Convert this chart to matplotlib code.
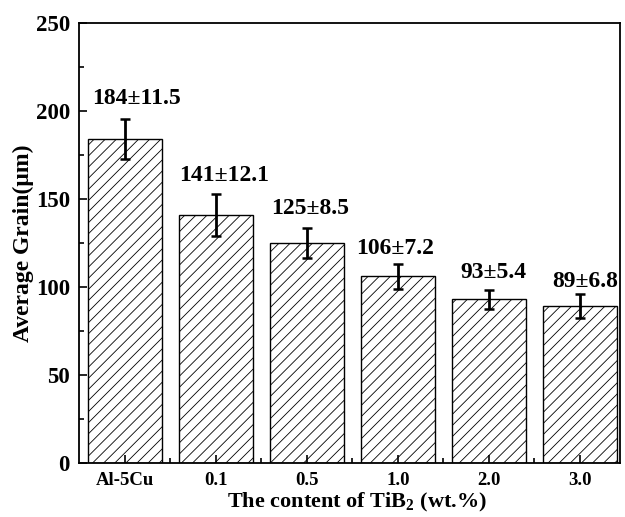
import numpy as np
import matplotlib.pyplot as plt
from matplotlib.ticker import MultipleLocator

# data
categories = ["Al-5Cu", "0.1", "0.5", "1.0", "2.0", "3.0"]
grain = [184, 141, 125, 106, 93, 89]
err = [11.5, 12.1, 8.5, 7.2, 5.4, 6.8]
labels = ["184±11.5", "141±12.1", "125±8.5", "106±7.2", "93±5.4", "89±6.8"]

plt.rcParams['font.family'] = ['Liberation Serif', 'DejaVu Serif']
plt.rcParams['font.weight'] = 'bold'
plt.rcParams['hatch.linewidth'] = 0.6
plt.rcParams['hatch.color'] = '#444444'
plt.rcParams['mathtext.fontset'] = 'custom'
plt.rcParams['mathtext.rm'] = 'Liberation Serif:bold'
plt.rcParams['mathtext.bf'] = 'Liberation Serif:bold'

fig = plt.figure(figsize=(6.25, 5.17), dpi=100)
ax = fig.add_axes([0.1264, 0.1044, 0.8656, 0.851])

x = np.arange(len(categories))
ax.bar(x, grain, width=0.81, color='white', edgecolor='black', linewidth=1.0, hatch='///')
ax.errorbar(x, grain, yerr=err, fmt='none', ecolor='black', elinewidth=2,
            capsize=3.8, capthick=1.8)

# labels are not quite centred on the bars in the original
dx = [8, 6, 2, -2, 3, 4]
dy = [10.8, 9, 10, 7.2, 8.6, 5.3]
for xi, g, e, lab, ox, oy in zip(x, grain, err, labels, dx, dy):
    ax.annotate(lab, (xi, g + e), xytext=(ox, oy), textcoords='offset points',
                ha='center', va='baseline', fontsize=17, fontweight='bold')

ax.set_xlim(-0.505, 5.44)
ax.set_ylim(0, 250)
ax.set_xticks(x)
ax.set_xticklabels(categories, fontsize=13.5, fontweight='bold')
ax.set_xticks(x[:-1] + 0.5, minor=True)
ax.yaxis.set_major_locator(MultipleLocator(50))
ax.yaxis.set_minor_locator(MultipleLocator(25))
ax.tick_params(axis='y', labelsize=16.5, pad=6.5)
ax.tick_params(axis='x', pad=6.5)
ax.tick_params(which='major', direction='in', length=5.8, width=1.2)
ax.tick_params(which='minor', direction='in', length=3.6, width=1.2)
for lab in ax.get_yticklabels():
    lab.set_fontweight('bold')
for s in ax.spines.values():
    s.set_linewidth(1.3)

ax.set_xlabel("The content of TiB$_\\mathrm{2}$ (wt.%)", fontsize=16, fontweight='bold', labelpad=1.5)
ax.xaxis.label.set_x(0.514)
ax.set_ylabel("Average Grain(μm)", fontsize=17, fontweight='bold', labelpad=1.5)

fig.savefig("out.png", dpi=100)
